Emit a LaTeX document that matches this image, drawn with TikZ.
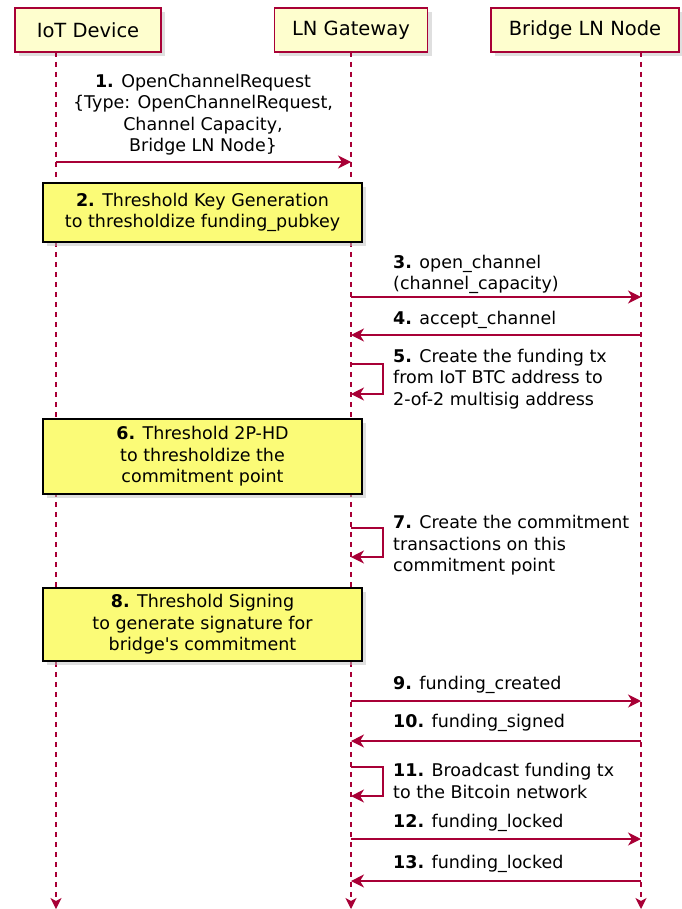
\documentclass[tikz,border=0pt]{standalone}
\usepackage{fontspec}
\setmainfont{DejaVu Sans}
\usetikzlibrary{arrows.meta,positioning,shadows}

\definecolor{lnred}{HTML}{A80036}
\definecolor{partyellow}{HTML}{FEFECE}
\definecolor{noteyellow}{HTML}{FBFB77}

\tikzset{
  party/.style={draw=lnred, fill=partyellow, line width=1.3pt,
    minimum height=44pt, inner sep=0pt,
    font=\fontsize{19.5}{23}\selectfont,
    drop shadow={shadow xshift=4pt, shadow yshift=-4pt, fill=black!25}},
  lifeline/.style={draw=lnred, line width=1.2pt, dash pattern=on 5pt off 5pt,
    -{Stealth[length=11pt, width=11pt, inset=3pt]}},
  msg/.style={draw=lnred, line width=1.3pt,
    -{Stealth[length=13pt, width=13pt, inset=4pt]}},
  msgtext/.style={inner sep=0pt, font=\fontsize{17.5}{21.5}\selectfont},
  notebox/.style={draw=black, fill=noteyellow, line width=1.3pt,
    minimum width=319pt, inner sep=0pt, align=center,
    font=\fontsize{17.5}{21.5}\selectfont,
    drop shadow={shadow xshift=4pt, shadow yshift=-4pt, fill=black!25}}
}

\begin{document}
\begin{tikzpicture}[x=1pt, y=-1pt]
  \useasboundingbox (0,0) rectangle (681,909);

  % participants
  \node[party, minimum width=146pt] (iot) at (88,30) {IoT Device};
  \node[party, minimum width=153pt] (gw) at (351,30) {LN Gateway};
  \node[party, minimum width=188pt] (bridge) at (585,30) {Bridge LN Node};

  % lifelines
  \coordinate (iotL) at (56,52);
  \coordinate (gwL) at (351,52);
  \coordinate (brL) at (641,52);
  \coordinate (bottom) at (0,909);
  \draw[lifeline] (iotL) -- (iotL |- bottom);
  \draw[lifeline] (gwL) -- (gwL |- bottom);
  \draw[lifeline] (brL) -- (brL |- bottom);

  % 1
  \coordinate (r1) at (0,162);
  \node[msgtext, align=center, anchor=north] (t1) at (203,74)
    {\textbf{1.} OpenChannelRequest\\\{Type: OpenChannelRequest,\\Channel Capacity,\\Bridge LN Node\}};
  \draw[msg] (iotL |- r1) -- (gwL |- r1);

  % 2
  \node[notebox, minimum height=59pt] (n2) at (202.5,212.5)
    {\textbf{2.} Threshold Key Generation\\to thresholdize funding\_pubkey};

  % 3
  \coordinate (r3) at (0,297);
  \node[msgtext, align=left, anchor=north west] (t3) at (393,255)
    {\textbf{3.} open\_channel\\(channel\_capacity)};
  \draw[msg] (gwL |- r3) -- (brL |- r3);

  % 4
  \coordinate (r4) at (0,335);
  \node[msgtext, anchor=north west] (t4) at (393,311) {\textbf{4.} accept\_channel};
  \draw[msg] (brL |- r4) -- (gwL |- r4);

  % 5
  \coordinate (r5a) at (0,364);
  \coordinate (r5b) at (0,394);
  \node[msgtext, align=left, anchor=north west] (t5) at (393,349)
    {\textbf{5.} Create the funding tx\\from IoT BTC address to\\2-of-2 multisig address};
  \draw[msg] (gwL |- r5a) -- ++(32,0) |- (gwL |- r5b);

  % 6
  \node[notebox, minimum height=75pt] (n6) at (202.5,456.5)
    {\textbf{6.} Threshold 2P-HD\\to thresholdize the\\commitment point};

  % 7
  \coordinate (r7a) at (0,528);
  \coordinate (r7b) at (0,557);
  \node[msgtext, align=left, anchor=north west] (t7) at (393,515)
    {\textbf{7.} Create the commitment\\transactions on this\\commitment point};
  \draw[msg] (gwL |- r7a) -- ++(32,0) |- (gwL |- r7b);

  % 8
  \node[notebox, minimum height=73pt] (n8) at (202.5,624.5)
    {\textbf{8.} Threshold Signing\\to generate signature for\\bridge\textquotesingle s commitment};

  % 9
  \coordinate (r9) at (0,701);
  \node[msgtext, anchor=north west] (t9) at (393,676) {\textbf{9.} funding\_created};
  \draw[msg] (gwL |- r9) -- (brL |- r9);

  % 10
  \coordinate (r10) at (0,741);
  \node[msgtext, anchor=north west] (t10) at (393,714) {\textbf{10.} funding\_signed};
  \draw[msg] (brL |- r10) -- (gwL |- r10);

  % 11
  \coordinate (r11a) at (0,767);
  \coordinate (r11b) at (0,796);
  \node[msgtext, align=left, anchor=north west] (t11) at (393,763)
    {\textbf{11.} Broadcast funding tx\\to the Bitcoin network};
  \draw[msg] (gwL |- r11a) -- ++(32,0) |- (gwL |- r11b);

  % 12
  \coordinate (r12) at (0,839);
  \node[msgtext, anchor=north west] (t12) at (393,814) {\textbf{12.} funding\_locked};
  \draw[msg] (gwL |- r12) -- (brL |- r12);

  % 13
  \coordinate (r13) at (0,881);
  \node[msgtext, anchor=north west] (t13) at (393,855) {\textbf{13.} funding\_locked};
  \draw[msg] (brL |- r13) -- (gwL |- r13);
\end{tikzpicture}
\end{document}
